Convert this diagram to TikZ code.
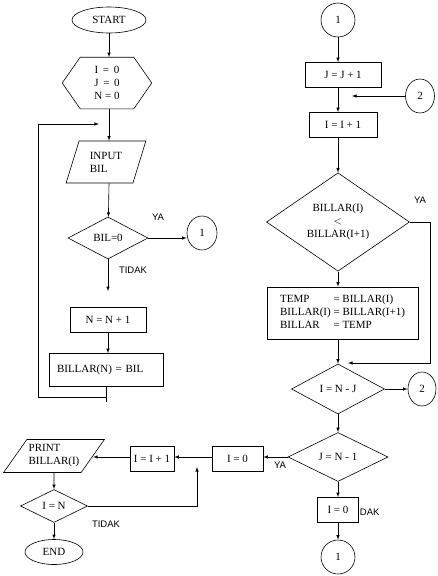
\documentclass[tikz,border=0pt]{standalone}
\usepackage{fontspec}
\setmainfont{Liberation Serif}
\newfontfamily\labfont{Liberation Sans}
\usetikzlibrary{shapes.geometric}
\tikzset{
  proc/.style={rectangle, draw, fill=white, inner sep=0pt},
  term/.style={ellipse, draw, inner sep=0pt},
  conn/.style={ellipse, draw, inner sep=0pt, minimum height=34pt},
  decide/.style={diamond, draw, inner sep=0pt, align=center},
  io/.style={trapezium, trapezium stretches=true, draw, inner sep=0pt, align=left},
  lab/.style={font=\labfont\fontsize{9.5}{11}\selectfont, inner sep=0pt},
  flow/.style={->, >=latex, line width=0.6pt}
}
\begin{document}
\begin{tikzpicture}[x=1pt, y=-1pt, line width=0.6pt, font=\fontsize{11}{13}\selectfont]
\useasboundingbox (0,0) rectangle (438,576);
% left column: reading the numbers
\node[term, minimum width=74pt, minimum height=26pt] (start) at (109,20) {START};
\node[inner sep=0pt, minimum width=53pt, minimum height=51pt, align=center] (init) at (107,83) {I \,=\, 0\\ J \,=\, 0\\ N = 0};
\draw (init.north west) -- (init.north east) -- ([xshift=18pt]init.east) -- (init.south east)
  -- (init.south west) -- ([xshift=-18pt]init.west) -- cycle;
\node[io, trapezium left angle=69, trapezium right angle=111, minimum width=80pt, minimum height=42pt] (input) at (106,162) {INPUT\\BIL};
\node[decide, minimum width=80pt, minimum height=42pt] (bil) at (108,238) {BIL=0};
\node[conn, minimum width=30pt] (c1a) at (202,233) {1};
\node[proc, minimum width=76pt, minimum height=25pt] (n1) at (108,320) {N = N + 1};
\node[proc, minimum width=114pt, minimum height=33pt, inner sep=8pt, text width=98pt, align=left] (store) at (106,370) {BILLAR(N) = BIL};
\coordinate (loopin) at (99,124);
\coordinate (loopcorner) at (38,124);
\coordinate (loopbot) at ([yshift=-10pt]store.south);

\draw[flow] (start) -- (start.south |- init.north);
\draw[flow] (init.south -| start.south) -- (start.south |- input.north);
\draw[flow] (start.south |- input.south) -- (bil);
\draw[flow] (bil.east) -- (c1a.west |- bil.east);
\draw[flow, shorten >=16pt] (bil) -- (n1);
\draw[flow] (n1) -- (n1.south |- store.north);
\draw (store.south) -- ++(0,15);
\draw[flow] (loopbot) -| (loopcorner) -- (loopin);
\node[lab] at (158,217) {YA};
\node[lab] at (133,270) {TIDAK};

% right column: sorting
\node[conn, minimum width=34pt] (c1top) at (338,20) {1};
\node[proc, minimum width=76pt, minimum height=25pt] (jj) at (343,75) {J = J + 1};
\node[conn, minimum width=29pt] (c2a) at (420,96) {2};
\node[proc, minimum width=68pt, minimum height=25pt] (ii) at (343,125) {I = I + 1};
\node[decide, minimum width=143pt, minimum height=98pt] (cmp) at (338,222) {BILLAR(I)\\$<$\\BILLAR(I+1)};
\node[proc, minimum width=151pt, minimum height=52pt, align=left] (swap) at (342.5,313)
  {\begin{tabular}{@{}l@{ = }l@{}}TEMP\hspace{1.6em} & BILLAR(I)\\ BILLAR(I) & BILLAR(I+1)\\ BILLAR & TEMP\end{tabular}};
\node[decide, minimum width=93pt, minimum height=50pt] (inj) at (338,389) {I = N - J};
\node[conn, minimum width=28pt] (c2b) at (422,389) {2};
\node[decide, minimum width=100pt, minimum height=49pt] (jn1) at (338,457) {J = N - 1};
\node[lab] at (365.5,512) {TIDAK};
\node[proc, minimum width=41pt, minimum height=25pt] (i0r) at (338,510) {I = 0};
\node[conn, minimum width=34pt] (c1b) at (338,557) {1};
\coordinate (join2) at (352,96);
\coordinate (yacorner) at (430,363);
\coordinate (join1) at (348,363);

\draw[flow] (c1top) -- (c1top.south |- jj.north);
\draw[flow] (c1top.south |- jj.south) -- (c1top.south |- ii.north);
\draw[flow] (c2a) -- (join2);
\draw[flow] (c1top.south |- ii.south) -- (cmp);
\draw[flow] (cmp) -- (cmp.south |- swap.north);
\draw[flow] (cmp.south |- swap.south) -- (inj);
\draw[flow] (cmp.east) -| (yacorner) -- (join1);
\draw[flow] (inj) -- (c2b);
\draw[flow] (inj) -- (jn1);
\draw[flow] (jn1) -- (i0r);
\draw[flow] (i0r) -- (c1b);
\node[lab] at (420,200) {YA};

% bottom left: printing
\node[io, trapezium left angle=46, trapezium right angle=134, minimum width=101pt, minimum height=33pt] (print) at (54,456) {PRINT\\BILLAR(I)};
\node[proc, minimum width=44pt, minimum height=25pt] (inc) at (152,459) {I = I + 1};
\node[proc, minimum width=51pt, minimum height=25pt] (i0) at (237.5,459) {I = 0};
\node[decide, minimum width=67pt, minimum height=33pt] (ieqn) at (54,506) {I = N};
\node[term, minimum width=58pt, minimum height=25pt] (end) at (54,552) {END};
\coordinate (back) at (197,467);

\draw[flow] (jn1.west) -- (i0.east |- jn1.west);
\draw[flow] (i0.west |- jn1.west) -- (inc.east |- jn1.west);
\draw[flow] (inc.west |- jn1.west) -- (print.east |- jn1.west);
\draw[flow] (print) -- (ieqn);
\draw[flow] (ieqn) -- (end);
\draw[flow] (ieqn.east) -| (back);
\node[lab] at (280,465) {YA};
\node[lab] at (106,524) {TIDAK};
\end{tikzpicture}
\end{document}
